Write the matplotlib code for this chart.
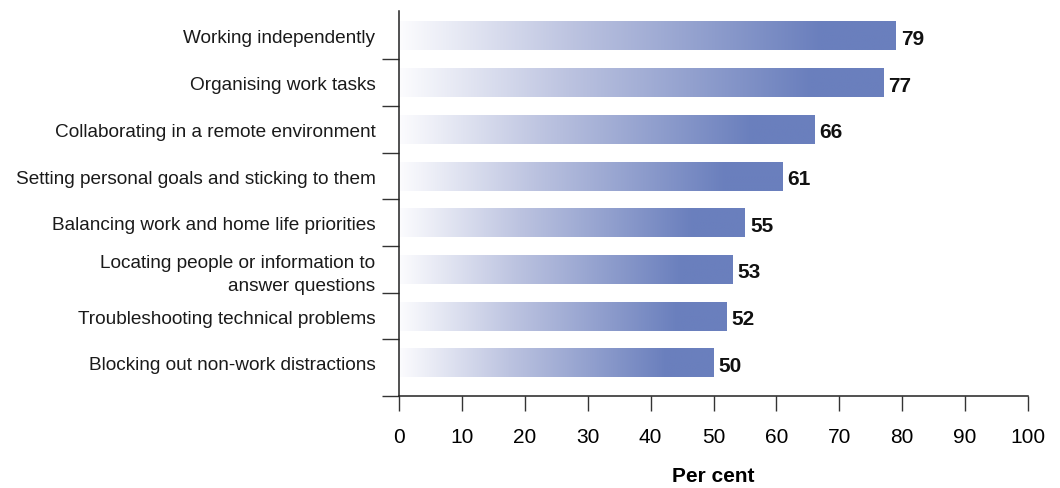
import numpy as np
import matplotlib.pyplot as plt
from matplotlib.colors import LinearSegmentedColormap

plt.rcParams['font.family'] = ['Liberation Sans', 'DejaVu Sans']

# data
categories = ['Working independently',
              'Organising work tasks',
              'Collaborating in a remote environment',
              'Setting personal goals and sticking to them',
              'Balancing work and home life priorities',
              'Locating people or information to\nanswer questions',
              'Troubleshooting technical problems',
              'Blocking out non-work distractions']
values = [79, 77, 66, 61, 55, 53, 52, 50]
xticks = [0, 10, 20, 30, 40, 50, 60, 70, 80, 90, 100]

blue = '#6a7fbd'
cmap = LinearSegmentedColormap.from_list(
    'grad', [(0, '#fcfcfe'), (0.35, '#bcc3e0'), (0.85, blue), (1, blue)])

fig = plt.figure(figsize=(10.6, 4.89), dpi=100)
ax = fig.add_axes([399/1060, 1-397/489, 629/1060, 385/489])

ypos = np.arange(len(values))
h = 0.62
grad = np.linspace(0, 1, 256).reshape(1, -1)
for y, v in zip(ypos, values):
    ax.imshow(grad, cmap=cmap, aspect='auto', extent=(0, v, y + h/2, y - h/2),
              interpolation='bilinear', zorder=2)
    ax.text(v + 0.8, y + 0.05, str(v), va='center', ha='left', fontsize=15,
            fontweight='bold', color='#111111')

ax.set_xlim(0, 100)
ax.set_ylim(len(values) - 1 + 0.71, -0.535)

ax.set_xticks(xticks)
ax.tick_params(axis='x', direction='out', length=11, width=1, color='#333333',
               labelsize=15, pad=11)
# category boundary ticks on the y axis
bounds = list(np.arange(len(values) - 1) + 0.5) + [len(values) - 1 + 0.71]
ax.set_yticks(bounds)
ax.set_yticklabels([])
ax.tick_params(axis='y', direction='out', length=12, width=1, color='#333333')
ax.set_yticks(ypos, minor=True)
ax.set_yticklabels(categories, minor=True, fontsize=13.7, color='#1a1a1a')
ax.tick_params(axis='y', which='minor', length=0, pad=17)
for lab in ax.get_yticklabels(minor=True):
    lab.set_ha('right')
    lab.set_multialignment('right')
    lab.set_linespacing(1.45)

for s in ['top', 'right']:
    ax.spines[s].set_visible(False)
for s in ['left', 'bottom']:
    ax.spines[s].set_color('#222222')
    ax.spines[s].set_linewidth(1.1)

ax.set_xlabel('Per cent', fontsize=15, fontweight='bold', labelpad=15)

fig.savefig('out.png', dpi=100)
